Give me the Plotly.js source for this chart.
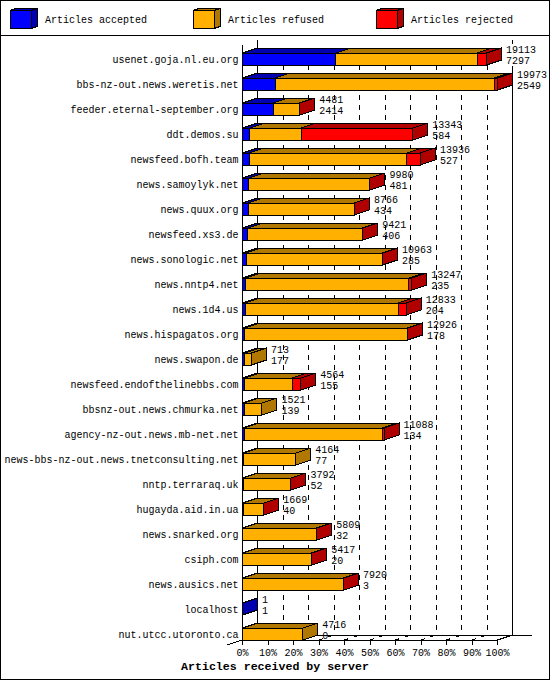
<!DOCTYPE html>
<html>
<head>
<meta charset="utf-8">
<script src="https://cdn.plot.ly/plotly-3.0.1.min.js"></script>
<style>
html,body{margin:0;padding:0;background:#fff;overflow:hidden}
#chart{width:550px;height:680px}
#chart .scatterlayer path,#chart .shapelayer path{shape-rendering:crispEdges}
</style>
</head>
<body>
<div id="chart"></div>
<script>
const servers = ["usenet.goja.nl.eu.org","bbs-nz-out.news.weretis.net","feeder.eternal-september.org","ddt.demos.su","newsfeed.bofh.team","news.samoylyk.net","news.quux.org","newsfeed.xs3.de","news.sonologic.net","news.nntp4.net","news.1d4.us","news.hispagatos.org","news.swapon.de","newsfeed.endofthelinebbs.com","bbsnz-out.news.chmurka.net","agency-nz-out.news.mb-net.net","news-bbs-nz-out.news.tnetconsulting.net","nntp.terraraq.uk","hugayda.aid.in.ua","news.snarked.org","csiph.com","news.ausics.net","localhost","nut.utcc.utoronto.ca"];
const totals   = [19113,19973,4481,13343,13936,9980,8766,9421,10963,13247,12833,12926,713,4564,1521,11088,4164,3792,1669,5809,5417,7920,1,4716];
const accepted = [7297,2549,2414,584,527,481,434,406,285,235,204,178,177,155,139,134,77,52,40,32,20,3,1,0];
const refused  = [11086,17164,2057,4009,12339,9479,8312,8995,10663,12777,11999,12738,536,3729,1382,10824,4087,3735,1624,5772,5392,7912,0,4716];
const rejected = [730,260,10,8750,1070,20,20,20,15,235,630,10,0,680,0,130,0,5,5,5,5,5,0,0];
const percentTicks = [0,10,20,30,40,50,60,70,80,90,100];
const percentLabels = ["0%","10%","20%","30%","40%","50%","60%","70%","80%","90%","100%"];
const seriesNames = ["Articles accepted","Articles refused","Articles rejected"];
const frontColors = ["#0000FF","#FFB000","#FF0000"];
const darkColors  = ["#0000B0","#B07800","#B00000"];
const titleText = "Articles received by server";

const W = 550, H = 680;
const ORIGIN = 242.5, PX_PER_PCT = 2.55, ROW0 = 59, ROW_STEP = 25;
const DEPTH_X = 15 / PX_PER_PCT, DEPTH_Y = 5 / ROW_STEP, HALF = 6 / ROW_STEP;
const X = p => (p - ORIGIN) / PX_PER_PCT;
const Y = p => (p - ROW0) / ROW_STEP;
const FONT = "'Liberation Mono', monospace";

const maxTotal = Math.max(...totals);
const pct = v => v / maxTotal * 100;
const rows = servers.map((_, i) => i);
const series = [accepted, refused, rejected];

const traces = [];
series.forEach((vals, s) => {
  traces.push({type:'bar', orientation:'h', name:seriesNames[s], x:vals.map(pct), y:rows,
    width:HALF*2, marker:{color:frontColors[s], line:{color:'#000', width:1}},
    hoverinfo:'skip', showlegend:false});
});

function poly(kind, s) {
  const xs = [], ys = [];
  rows.forEach(i => {
    let start = 0;
    for (let k = 0; k < s; k++) start += series[k][i];
    const end = start + series[s][i];
    const a = pct(start), b = pct(end);
    const t = i - HALF, u = i + HALF;
    if (kind === 'top' && series[s][i] > 0) {
      xs.push(a, b, b + DEPTH_X, a + DEPTH_X, a, null);
      ys.push(t, t, t - DEPTH_Y, t - DEPTH_Y, t, null);
    }
    if (kind === 'side' && series[s][i] > 0 && series.slice(s + 1).every(v => v[i] === 0)) {
      xs.push(b, b + DEPTH_X, b + DEPTH_X, b, b, null);
      ys.push(t, t - DEPTH_Y, u - DEPTH_Y, u, t, null);
    }
  });
  return {type:'scatter', mode:'lines', x:xs, y:ys, fill:'toself', fillcolor:darkColors[s],
    line:{color:'#000', width:1}, hoverinfo:'skip', showlegend:false, cliponaxis:false};
}
[0,1,2].forEach(s => traces.push(poly('top', s)));
[0,1,2].forEach(s => traces.push(poly('side', s)));

const labelX = totals.map(v => pct(v) + 19.5 / PX_PER_PCT);
const textTrace = (vals, off) => ({type:'scatter', mode:'text', x:labelX, y:rows.map(i => i + off),
  text:vals.map(String), textposition:'middle right',
  textfont:{family:FONT, size:10, color:'#000'}, hoverinfo:'skip', showlegend:false, cliponaxis:false});
traces.push(textTrace(totals, -9 / ROW_STEP));
traces.push(textTrace(accepted, 2 / ROW_STEP));

const shapes = [];
const line = (x0,y0,x1,y1,dash,layer) => shapes.push({type:'line', xref:'x', yref:'y', x0:X(x0), y0:Y(y0), x1:X(x1), y1:Y(y1),
  line:{color:'#000', width:1, dash:dash||'solid'}, layer:layer||'below'});
const backX = k => ORIGIN + 15 + k * PX_PER_PCT;
const frontX = k => ORIGIN + k * PX_PER_PCT;
percentTicks.slice(1).forEach(k => {
  if (k < 100) {
    line(backX(k), 55, backX(k), 635, '5px,5px');
    line(frontX(k), 640, backX(k), 635, '4px,6px,6px');
  }
});
line(backX(100), 40, backX(100), 44);
line(ORIGIN, 45, ORIGIN, 640);
line(ORIGIN + 15, 40, ORIGIN + 15, 635);
line(backX(100), 66, backX(100), 635);
line(ORIGIN, 640, frontX(100), 640);
line(ORIGIN + 15, 635, 532, 635);
line(frontX(100), 640, backX(100), 635);
line(227, 645, ORIGIN, 640);

const annotations = [];
const paperShape = (o) => shapes.push(Object.assign({xref:'paper', yref:'paper', layer:'above'}, o));
const px = p => p / W, py = p => 1 - p / H;
paperShape({type:'rect', x0:px(0.5), y0:py(0.5), x1:px(549.5), y1:py(679.5), line:{color:'#000', width:1}});
paperShape({type:'line', x0:px(0.5), y0:py(35.5), x1:px(549.5), y1:py(35.5), line:{color:'#000', width:1}});
[10, 193, 376].forEach((lx, s) => {
  const path = pts => 'M' + pts.map(q => px(q[0]) + ',' + py(q[1])).join('L') + 'Z';
  paperShape({type:'path', path:path([[lx+21,10.5],[lx+27,8.5],[lx+27,26.5],[lx+21,28.5]]), fillcolor:darkColors[s], line:{color:'#000', width:1}});
  paperShape({type:'path', path:path([[lx,10.5],[lx+6,8.5],[lx+27,8.5],[lx+21,10.5]]), fillcolor:darkColors[s], line:{color:'#000', width:1}});
  paperShape({type:'rect', x0:px(lx), y0:py(10.5), x1:px(lx+21), y1:py(28.5), fillcolor:frontColors[s], line:{color:'#000', width:1}});
  annotations.push({xref:'paper', yref:'paper', x:px(lx+33), y:py(20), xanchor:'left', yanchor:'middle',
    text:seriesNames[s], showarrow:false, font:{family:FONT, size:10, color:'#000'}});
});

const layout = {
  width:W, height:H, margin:{l:0, r:0, t:0, b:0, pad:0}, paper_bgcolor:'#fff', plot_bgcolor:'rgba(0,0,0,0)',
  barmode:'stack', showlegend:false, hovermode:false, font:{family:FONT, size:10, color:'#000'},
  xaxis:{range:[X(0), X(W)], anchor:'free', position:1 - 640/H, tickmode:'array', tickvals:percentTicks, ticktext:percentLabels,
    ticks:'outside', ticklen:4, tickwidth:1, tickcolor:'#000', tickangle:0, ticklabelstandoff:-1, showgrid:false, zeroline:false, showline:false,
    tickfont:{family:FONT, size:10, color:'#000'},
    title:{text:titleText, font:{family:FONT, size:11.6, color:'#000', weight:'bold'}, standoff:3}},
  yaxis:{range:[Y(H), Y(0)], anchor:'free', position:ORIGIN/W, tickmode:'array', tickvals:rows, ticktext:servers,
    ticks:'', ticklabelstandoff:4, showgrid:false, zeroline:false, showline:false,
    tickfont:{family:FONT, size:10, color:'#000'}},
  shapes, annotations
};
Plotly.newPlot('chart', traces, layout, {displayModeBar:false, staticPlot:true});
</script>
</body>
</html>
